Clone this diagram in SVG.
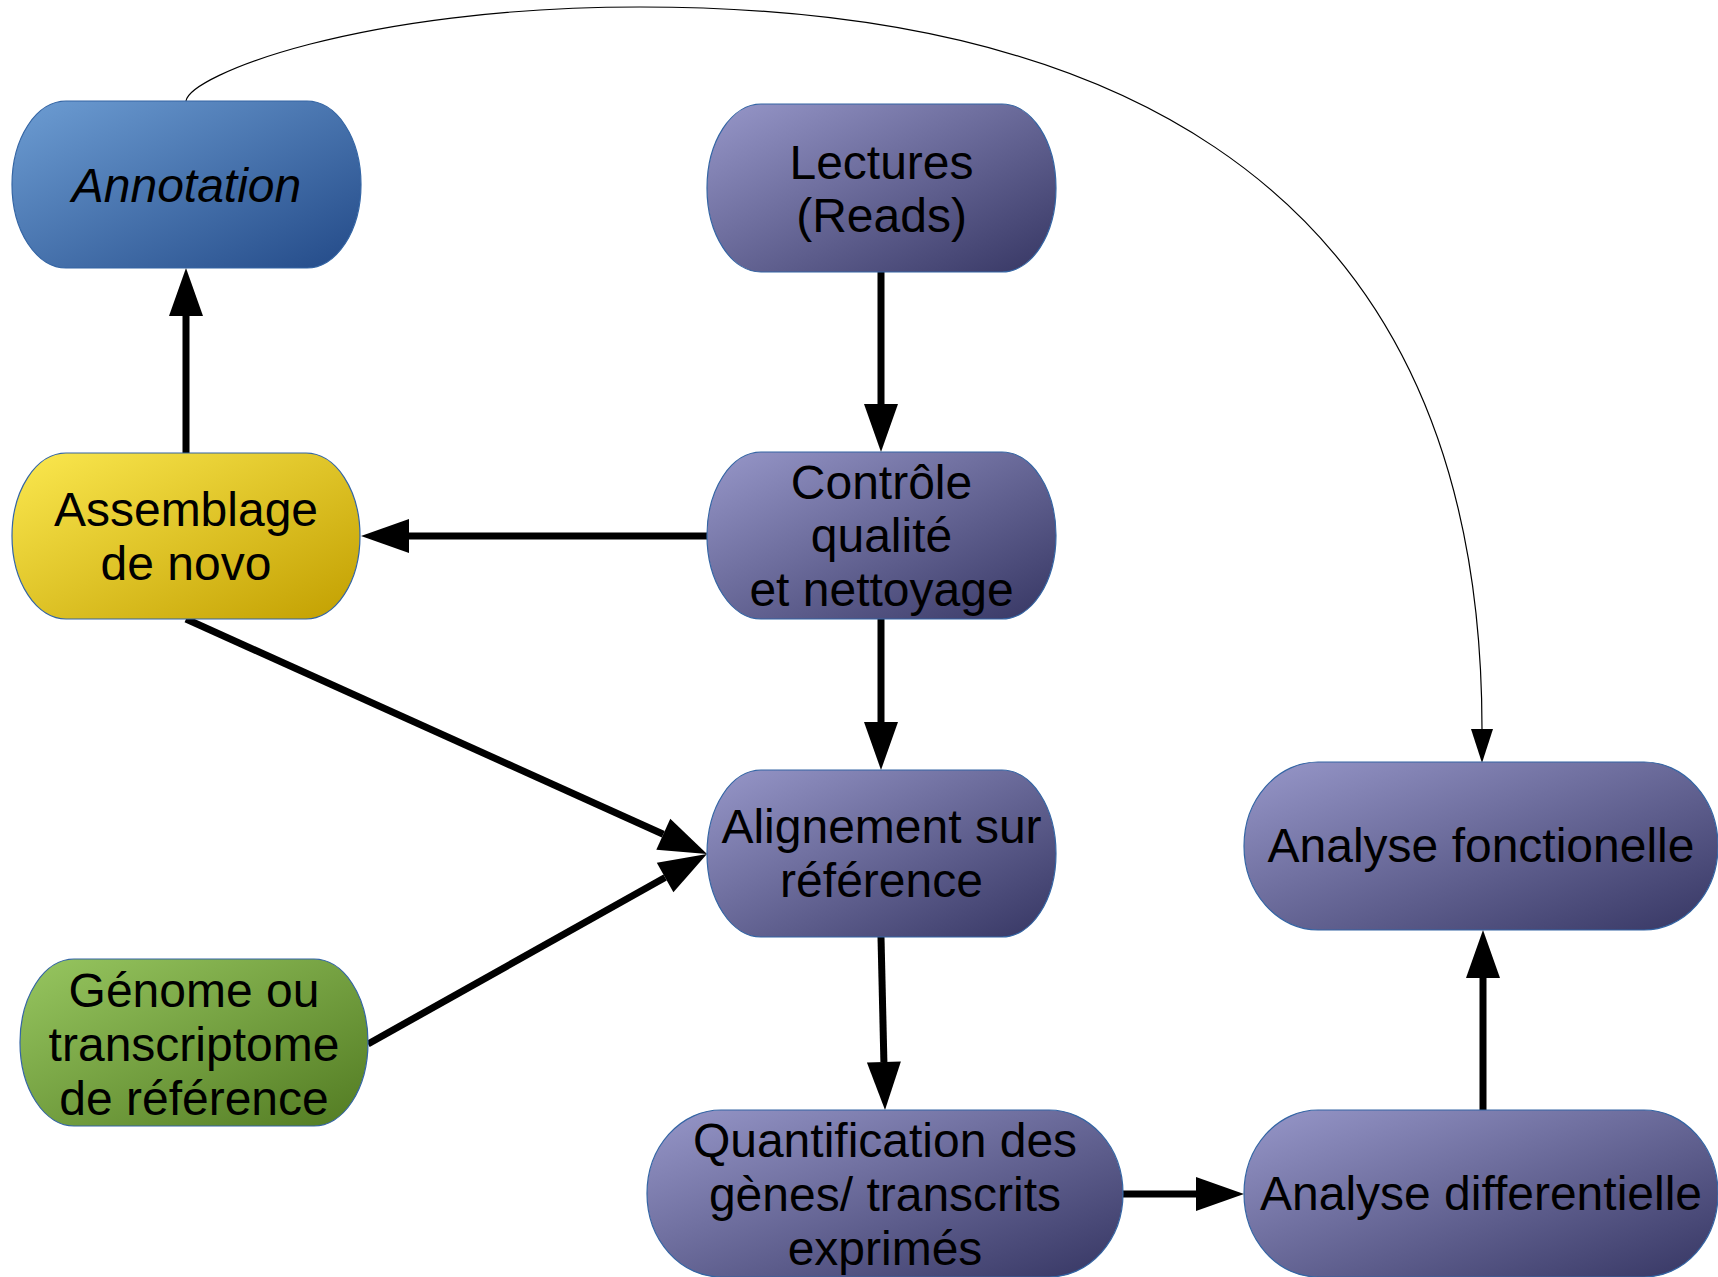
<svg xmlns="http://www.w3.org/2000/svg" width="1718" height="1277" viewBox="0 0 1718 1277">
  <defs>
    <linearGradient id="gPurple" x1="0" y1="0" x2="1" y2="1">
      <stop offset="0" stop-color="#9797c9"/>
      <stop offset="1" stop-color="#363663"/>
    </linearGradient>
    <linearGradient id="gBlue" x1="0" y1="0" x2="1" y2="1">
      <stop offset="0" stop-color="#6d9dd3"/>
      <stop offset="1" stop-color="#234a88"/>
    </linearGradient>
    <linearGradient id="gYellow" x1="0" y1="0" x2="1" y2="1">
      <stop offset="0" stop-color="#fbe84f"/>
      <stop offset="1" stop-color="#c29f00"/>
    </linearGradient>
    <linearGradient id="gGreen" x1="0" y1="0" x2="1" y2="1">
      <stop offset="0" stop-color="#97c660"/>
      <stop offset="1" stop-color="#527b22"/>
    </linearGradient>
    <!-- thick flow arrow, base at the path end -->
    <marker id="arrowBig" markerUnits="userSpaceOnUse" markerWidth="50" markerHeight="36" refX="0" refY="17" orient="auto" overflow="visible">
      <path d="M0,0 L48,17 L0,34 Z" fill="#000"/>
    </marker>
    <!-- thin arrow for the curved link -->
    <marker id="arrowSmall" markerUnits="userSpaceOnUse" markerWidth="36" markerHeight="24" refX="0" refY="11" orient="auto" overflow="visible">
      <path d="M0,0 L34,11 L0,22 Z" fill="#000"/>
    </marker>
  </defs>
  <style>
    .node { stroke: #3465a4; stroke-width: 1.2; }
    .label { font-family: "Liberation Sans", Arial, sans-serif; font-size: 48px; fill: #000; text-anchor: middle; }
    .thick { fill: none; stroke: #000; stroke-width: 7; marker-end: url(#arrowBig); }
    .thin { fill: none; stroke: #000; stroke-width: 1.2; marker-end: url(#arrowSmall); }
  </style>
  <rect width="1718" height="1277" fill="#fff"/>

  <g id="connectors">
    <path class="thick" d="M186,453 V316"/>
    <path class="thick" d="M881,272 V404"/>
    <path class="thick" d="M707,536 H409"/>
    <path class="thick" d="M881,619 V722"/>
    <path class="thick" d="M186,619 L663.3,834.2"/>
    <path class="thick" d="M368,1044 L665.1,877.5"/>
    <path class="thick" d="M881,937 L883.9,1062"/>
    <path class="thick" d="M1123,1194 H1196"/>
    <path class="thick" d="M1483,1110 V978"/>
    <path class="thin" d="M186,101 C190,75 360,7 640,7 C1050,7 1482,140 1482,729"/>
  </g>

  <g id="annotation">
    <rect class="node" x="12" y="101" width="349" height="167" rx="54" ry="83.5" fill="url(#gBlue)"/>
    <text class="label" x="186.5" y="202" font-style="italic">Annotation</text>
  </g>

  <g id="lectures">
    <rect class="node" x="707" y="104" width="349" height="168" rx="54" ry="84" fill="url(#gPurple)"/>
    <text class="label" x="881.5" y="179">Lectures</text>
    <text class="label" x="881.5" y="232">(Reads)</text>
  </g>

  <g id="assemblage">
    <rect class="node" x="12" y="453" width="348" height="166" rx="54" ry="83" fill="url(#gYellow)"/>
    <text class="label" x="186" y="526">Assemblage</text>
    <text class="label" x="186" y="580">de novo</text>
  </g>

  <g id="controle">
    <rect class="node" x="707" y="452" width="349" height="167" rx="54" ry="83.5" fill="url(#gPurple)"/>
    <text class="label" x="881.5" y="499">Contrôle</text>
    <text class="label" x="881.5" y="552">qualité</text>
    <text class="label" x="881.5" y="606">et nettoyage</text>
  </g>

  <g id="alignement">
    <rect class="node" x="707" y="770" width="349" height="167" rx="54" ry="83.5" fill="url(#gPurple)"/>
    <text class="label" x="881.5" y="843">Alignement sur</text>
    <text class="label" x="881.5" y="897">référence</text>
  </g>

  <g id="genome">
    <rect class="node" x="20" y="959" width="348" height="167" rx="54" ry="83.5" fill="url(#gGreen)"/>
    <text class="label" x="194" y="1007">Génome ou</text>
    <text class="label" x="194" y="1061">transcriptome</text>
    <text class="label" x="194" y="1115">de référence</text>
  </g>

  <g id="fonctionelle">
    <rect class="node" x="1244" y="762" width="474" height="168" rx="74" ry="84" fill="url(#gPurple)"/>
    <text class="label" x="1481" y="862">Analyse fonctionelle</text>
  </g>

  <g id="quantification">
    <rect class="node" x="647" y="1110" width="476" height="167" rx="74" ry="83.5" fill="url(#gPurple)"/>
    <text class="label" x="885" y="1157">Quantification des</text>
    <text class="label" x="885" y="1211">gènes/ transcrits</text>
    <text class="label" x="885" y="1265">exprimés</text>
  </g>

  <g id="differentielle">
    <rect class="node" x="1244" y="1110" width="474" height="167" rx="74" ry="83.5" fill="url(#gPurple)"/>
    <text class="label" x="1481" y="1210">Analyse differentielle</text>
  </g>
</svg>
